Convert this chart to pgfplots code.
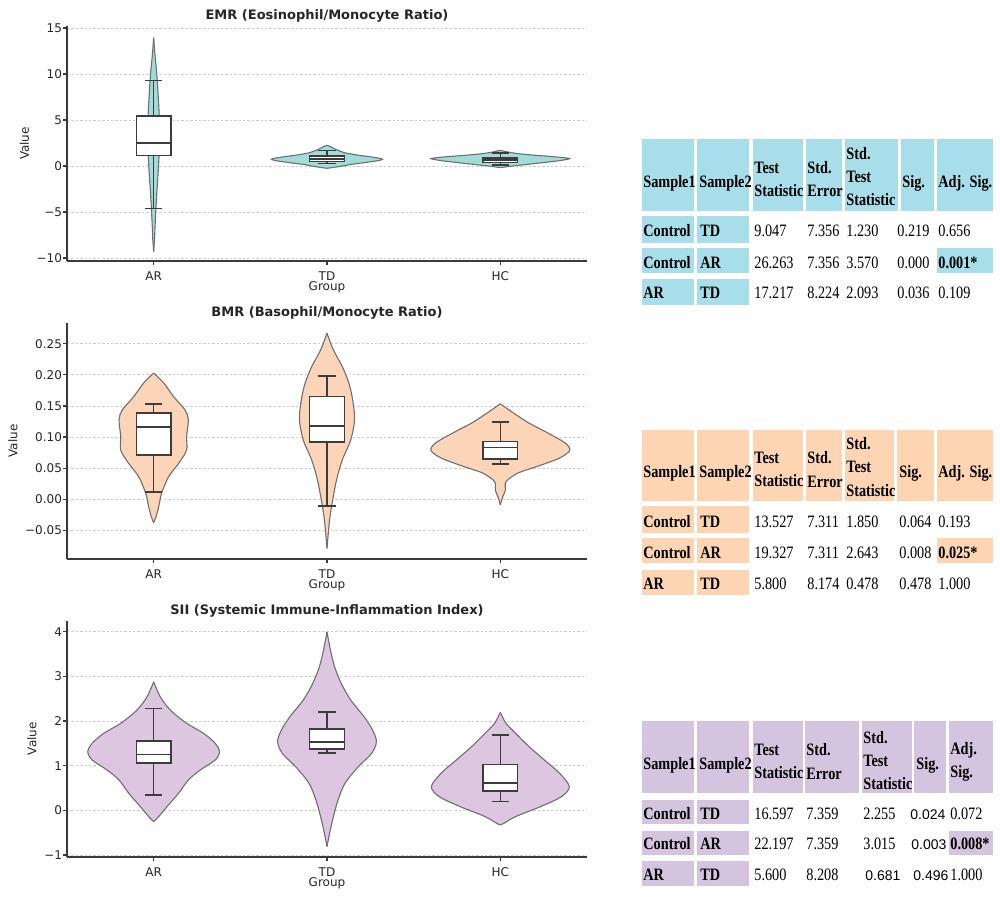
\documentclass[border=0pt]{standalone}
\usepackage{fontspec}
\setmainfont{DejaVu Sans}
\newfontfamily\tabfont[FakeStretch=0.82]{Liberation Serif}
\newfontfamily\arialfont{Liberation Sans}
\usepackage{pgfplots}
\pgfplotsset{compat=1.18}
\usepackage{pgfplotstable}
\usepgfplotslibrary{fillbetween,statistics}

\definecolor{emrc}{HTML}{9FDCDA}
\definecolor{bmrc}{HTML}{FCD5B9}
\definecolor{siic}{HTML}{DDC6E0}
\definecolor{t1c}{HTML}{A8DEE9}
\definecolor{t2c}{HTML}{FDD5B3}
\definecolor{t3c}{HTML}{D5C4DF}
\definecolor{vlinec}{HTML}{6F6F6F}
\definecolor{boxc}{HTML}{3C3C3C}
\definecolor{spinec}{HTML}{3A3A3A}
\definecolor{gridc}{HTML}{CCCCCC}
\definecolor{labc}{HTML}{262626}

% violin half-widths (y, w)
\pgfplotstableread{
y w
-9.3 0
-8 0.005
-7 0.007
-5 0.012
-3 0.018
-1 0.025
1 0.031
2.5 0.036
4 0.035
6 0.031
8 0.025
10 0.018
12 0.008
13.95 0
}\emrAR
\pgfplotstableread{
y w
-0.25 0
-0.12 0.05
0.0 0.09
0.15 0.13
0.3 0.19
0.45 0.25
0.6 0.30
0.73 0.32
0.85 0.30
1.0 0.25
1.15 0.19
1.3 0.14
1.45 0.10
1.65 0.07
1.9 0.04
2.1 0.02
2.25 0
}\emrTD
\pgfplotstableread{
y w
-0.18 0
-0.05 0.05
0.1 0.12
0.25 0.19
0.4 0.26
0.55 0.33
0.7 0.38
0.8 0.40
0.92 0.36
1.05 0.28
1.2 0.18
1.35 0.10
1.5 0.05
1.7 0
}\emrHC
\pgfplotstableread{
y w
-0.0377 0
-0.028 0.014
-0.012 0.029
0.0097 0.046
0.036 0.086
0.058 0.145
0.079 0.19
0.101 0.19
0.128 0.20
0.144 0.18
0.165 0.115
0.187 0.058
0.203 0
}\bmrAR
\pgfplotstableread{
y w
-0.079 0
-0.033 0.015
-0.001 0.033
0.031 0.055
0.063 0.088
0.0955 0.137
0.128 0.159
0.160 0.148
0.187 0.126
0.2135 0.088
0.240 0.037
0.267 0
}\bmrTD
\pgfplotstableread{
y w
-0.0092 0
0.0016 0.011
0.015 0.029
0.0283 0.033
0.0419 0.10
0.0525 0.21
0.066 0.34
0.0783 0.40
0.0902 0.375
0.1063 0.276
0.1224 0.166
0.1385 0.077
0.1535 0
}\bmrHC
\pgfplotstableread{
y w
-0.253 0
-0.141 0.029
0.083 0.077
0.383 0.144
0.68 0.20
0.904 0.269
1.128 0.355
1.314 0.38
1.502 0.355
1.726 0.288
1.95 0.19
2.248 0.096
2.545 0.038
2.88 0
}\siiAR
\pgfplotstableread{
y w
-0.813 0
-0.513 0.015
-0.141 0.037
0.233 0.064
0.607 0.104
0.978 0.181
1.278 0.258
1.538 0.285
1.8 0.263
2.098 0.214
2.471 0.137
2.845 0.082
3.217 0.044
3.59 0.02
4.0 0
}\siiTD
\pgfplotstableread{
y w
-0.327 0
-0.289 0.022
-0.141 0.088
0.083 0.232
0.307 0.353
0.53 0.398
0.83 0.342
1.128 0.254
1.426 0.166
1.726 0.088
1.95 0.033
2.196 0
}\siiHC

\newcommand{\violin}[4]{%
  \addplot[name path=#4R, draw=vlinec, line width=0.55bp, smooth, tension=0.5] table[x expr=#2+\thisrow{w}, y=y] {#1};
  \addplot[name path=#4L, draw=vlinec, line width=0.55bp, smooth, tension=0.5] table[x expr=#2-\thisrow{w}, y=y] {#1};
  \addplot[fill=#3, draw=none] fill between[of=#4R and #4L];
}
\newcommand{\bx}[6]{%
  \addplot[boxplot/draw direction=y, boxplot prepared={draw position=#1, lower whisker=#2, lower quartile=#3,
    median=#4, upper quartile=#5, upper whisker=#6, box extend=0.2, whisker extend=0.1},
    draw=boxc, fill=white, line width=0.8bp, solid] coordinates {};
}

\pgfplotsset{
  vio/.style={
    scale only axis, width=260bp, anchor=south west,
    xmin=-0.5, xmax=2.5,
    xtick={0,1,2}, xticklabels={AR,TD,HC},
    axis x line*=bottom, axis y line*=left,
    axis line style={-, draw=spinec, line width=0.8bp},
    every tick/.style={draw=spinec, line width=0.6bp},
    major tick length=2bp, tick align=outside,
    ymajorgrids, grid style={dash pattern=on 1.2bp off 1bp, draw=gridc, line width=0.4bp},
    xlabel=Group, ylabel=Value,
    tick label style={font=\fontsize{6bp}{7bp}\selectfont, text=labc},
    label style={font=\fontsize{6bp}{7bp}\selectfont, text=labc},
    yticklabel shift=-3bp, ylabel shift=-3bp, xlabel shift=-6.5bp,
    every axis title shift=0pt,
    title style={font=\bfseries\fontsize{6.5bp}{8bp}\selectfont, text=labc,
      at={(0.5,1)}, anchor=center, yshift=5bp},
    set layers,
  }
}

\newcommand{\hd}[3]{\node[anchor=west, inner sep=0, align=left, text=black,
  font=\tabfont\bfseries\fontsize{8.7bp}{11.6bp}\selectfont] at (#1,#2) {#3};}
\newcommand{\bd}[3]{\node[anchor=base west, inner sep=0, text=black,
  font=\tabfont\bfseries\fontsize{8.7bp}{11bp}\selectfont] at (#1,#2) {#3};}
\newcommand{\rg}[3]{\node[anchor=base west, inner sep=0, text=black,
  font=\tabfont\fontsize{8.7bp}{11bp}\selectfont] at (#1,#2) {#3};}
\newcommand{\sn}[3]{\node[anchor=base west, inner sep=0, text=black,
  font=\arialfont\fontsize{7bp}{9bp}\selectfont] at (#1,#2) {#3};}

\begin{document}
\begin{tikzpicture}

% ---- EMR
\begin{axis}[vio, at={(33.5bp,-130.5bp)}, height=117.5bp,
  ymin=-10.33, ymax=15.22, ytick={-10,-5,0,5,10,15},
  yticklabels={−10,−5,0,5,10,15},
  title={EMR (Eosinophil/Monocyte Ratio)}]
\violin{\emrAR}{0}{emrc}{ea}
\violin{\emrTD}{1}{emrc}{et}
\violin{\emrHC}{2}{emrc}{eh}
\bx{0}{-4.64}{1.16}{2.47}{5.43}{9.31}
\bx{1}{0.25}{0.5}{0.75}{1.08}{1.7}
\bx{2}{0.14}{0.4}{0.62}{0.87}{1.38}
\end{axis}

% ---- BMR
\begin{axis}[vio, at={(33.5bp,-279.35bp)}, height=117.7bp,
  ymin=-0.0957, ymax=0.283, ytick={-0.05,0,0.05,0.1,0.15,0.2,0.25},
  yticklabels={−0.05,0.00,0.05,0.10,0.15,0.20,0.25},
  title={BMR (Basophil/Monocyte Ratio)}]
\violin{\bmrAR}{0}{bmrc}{ba}
\violin{\bmrTD}{1}{bmrc}{bt}
\violin{\bmrHC}{2}{bmrc}{bh}
\bx{0}{0.0113}{0.0713}{0.1164}{0.1385}{0.153}
\bx{1}{-0.0113}{0.0923}{0.118}{0.165}{0.1985}
\bx{2}{0.0564}{0.0644}{0.0831}{0.0928}{0.1245}
\end{axis}

% ---- SII
\begin{axis}[vio, at={(33.5bp,-428.35bp)}, height=118bp,
  ymin=-1.04, ymax=4.25, ytick={-1,0,1,2,3,4},
  yticklabels={−1,0,1,2,3,4},
  title={SII (Systemic Immune-Inflammation Index)}]
\violin{\siiAR}{0}{siic}{sa}
\violin{\siiTD}{1}{siic}{st}
\violin{\siiHC}{2}{siic}{sh}
\bx{0}{0.345}{1.06}{1.255}{1.553}{2.285}
\bx{1}{1.285}{1.374}{1.538}{1.822}{2.21}
\bx{2}{0.195}{0.434}{0.613}{1.023}{1.688}
\end{axis}

% ---- tables (pixel grid of the reference)
\begin{scope}[x=0.5bp, y=-0.5bp]
% table 1
\foreach \a/\b in {642/694,697/749,753/803,806/842,845/898,901/934,937/993}
  \fill[t1c] (\a,139) rectangle (\b,211);
\foreach \r/\s in {216/243,248/273,279/305}
  {\fill[t1c] (642,\r) rectangle (694,\s); \fill[t1c] (697,\r) rectangle (749,\s);}
\fill[t1c] (937,248) rectangle (993,273);
\hd{643}{183}{Sample1}
\hd{699}{183}{Sample2}
\hd{754}{179}{Test\\Statistic}
\hd{807}{179}{Std.\\Error}
\hd{846}{176.6}{Std.\\Test\\Statistic}
\hd{902}{183}{Sig.}
\hd{938}{183}{Adj. Sig.}
\bd{643}{236.7}{Control}\bd{700}{236.7}{TD}
\rg{754}{236.7}{9.047}\rg{807}{236.7}{7.356}\rg{846}{236.7}{1.230}\rg{897}{236.7}{0.219}\rg{938}{236.7}{0.656}
\bd{643}{268.3}{Control}\bd{700}{268.3}{AR}
\rg{754}{268.3}{26.263}\rg{807}{268.3}{7.356}\rg{846}{268.3}{3.570}\rg{897}{268.3}{0.000}\bd{938}{268.3}{0.001*}
\bd{643}{299}{AR}\bd{700}{299}{TD}
\rg{754}{299}{17.217}\rg{807}{299}{8.224}\rg{846}{299}{2.093}\rg{897}{299}{0.036}\rg{938}{299}{0.109}

% table 2
\foreach \a/\b in {642/694,697/749,753/803,806/842,845/894,897/934,937/993}
  \fill[t2c] (\a,430) rectangle (\b,501);
\foreach \r/\s in {506/533,538/563,570/595}
  {\fill[t2c] (642,\r) rectangle (694,\s); \fill[t2c] (697,\r) rectangle (749,\s);}
\fill[t2c] (937,538) rectangle (993,563);
\hd{643}{473.5}{Sample1}
\hd{699}{473.5}{Sample2}
\hd{754}{469.5}{Test\\Statistic}
\hd{807}{469.5}{Std.\\Error}
\hd{846}{467}{Std.\\Test\\Statistic}
\hd{899}{473.5}{Sig.}
\hd{938}{473.5}{Adj. Sig.}
\bd{643}{527.3}{Control}\bd{700}{527.3}{TD}
\rg{754}{527.3}{13.527}\rg{807}{527.3}{7.311}\rg{846}{527.3}{1.850}\rg{899}{527.3}{0.064}\rg{938}{527.3}{0.193}
\bd{643}{558.3}{Control}\bd{700}{558.3}{AR}
\rg{754}{558.3}{19.327}\rg{807}{558.3}{7.311}\rg{846}{558.3}{2.643}\rg{899}{558.3}{0.008}\bd{938}{558.3}{0.025*}
\bd{643}{589.3}{AR}\bd{700}{589.3}{TD}
\rg{754}{589.3}{5.800}\rg{807}{589.3}{8.174}\rg{846}{589.3}{0.478}\rg{899}{589.3}{0.478}\rg{938}{589.3}{1.000}

% table 3
\foreach \a/\b in {642/694,697/749,753/803,805/859,862/912,914/946,949/993}
  \fill[t3c] (\a,721) rectangle (\b,793);
\foreach \r/\s in {800/824,831/855,861/886}
  {\fill[t3c] (642,\r) rectangle (694,\s); \fill[t3c] (697,\r) rectangle (749,\s);}
\fill[t3c] (949,831) rectangle (993,855);
\hd{643}{765}{Sample1}
\hd{699}{765}{Sample2}
\hd{754}{761.5}{Test\\Statistic}
\hd{806}{761.5}{Std.\\Error}
\hd{863}{760.5}{Std.\\Test\\Statistic}
\hd{916}{765}{Sig.}
\hd{950}{761.5}{Adj.\\Sig.}
\bd{643}{820}{Control}\bd{700}{820}{TD}
\rg{754}{820}{16.597}\rg{806}{820}{7.359}\rg{863}{820}{2.255}\sn{910}{820}{0.024}\rg{950}{820}{0.072}
\bd{643}{850}{Control}\bd{700}{850}{AR}
\rg{754}{850}{22.197}\rg{806}{850}{7.359}\rg{863}{850}{3.015}\sn{911}{850}{0.003}\bd{950}{850}{0.008*}
\bd{643}{880.5}{AR}\bd{700}{880.5}{TD}
\rg{754}{880.5}{5.600}\rg{806}{880.5}{8.208}\sn{865}{880.5}{0.681}\sn{913}{880.5}{0.496}\rg{950}{880.5}{1.000}
\end{scope}

\pgfresetboundingbox
\path[use as bounding box] (0,0) rectangle (500bp,-448.5bp);
\end{tikzpicture}
\end{document}
